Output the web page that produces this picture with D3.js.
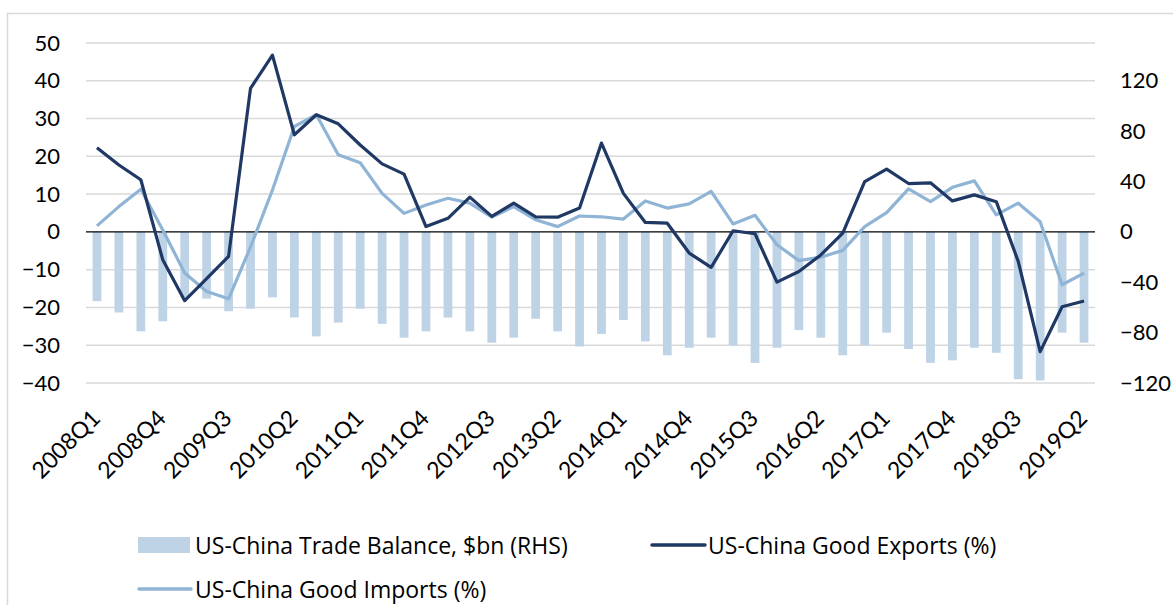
<!DOCTYPE html>
<html>
<head>
<meta charset="utf-8">
<script src="https://cdn.jsdelivr.net/npm/d3@7"></script>
<style>
  body { margin: 0; background: #fff; }
  svg { display: block; font-family: Lato, "Open Sans", sans-serif; }
</style>
</head>
<body>
<svg width="1173" height="605"></svg>
<script>
// quarters on the x axis
var quarters = [
  "2008Q1","2008Q2","2008Q3","2008Q4","2009Q1","2009Q2","2009Q3","2009Q4",
  "2010Q1","2010Q2","2010Q3","2010Q4","2011Q1","2011Q2","2011Q3","2011Q4",
  "2012Q1","2012Q2","2012Q3","2012Q4","2013Q1","2013Q2","2013Q3","2013Q4",
  "2014Q1","2014Q2","2014Q3","2014Q4","2015Q1","2015Q2","2015Q3","2015Q4",
  "2016Q1","2016Q2","2016Q3","2016Q4","2017Q1","2017Q2","2017Q3","2017Q4",
  "2018Q1","2018Q2","2018Q3","2018Q4","2019Q1","2019Q2"
];

// trade balance, $bn (right axis)
var balance = [
  -55, -64, -79, -71, -52, -53, -63, -61,
  -52, -68, -83, -72, -61, -73, -84, -79,
  -68, -79, -88, -84, -69, -79, -91, -81,
  -70, -87, -98, -92, -84, -90, -104, -92,
  -78, -84, -98, -90, -80, -93, -104, -102,
  -92, -96, -117, -118, -80, -88
];

// good exports, % y/y (left axis)
var exportsPct = [
  22.3, 17.7, 13.8, -7.4, -18.2, -12.4, -6.5, 38.0,
  46.8, 25.7, 31.0, 28.6, 23.0, 18.0, 15.3, 1.4,
  3.6, 9.2, 4.1, 7.6, 4.0, 3.9, 6.3, 23.5,
  10.2, 2.5, 2.3, -5.6, -9.4, 0.3, -0.5, -13.3,
  -10.5, -6.1, -0.3, 13.3, 16.6, 12.8, 13.0, 8.2,
  9.8, 8.0, -7.8, -31.7, -19.8, -18.3
];

// good imports, % y/y (left axis)
var importsPct = [
  1.6, 6.7, 11.3, 0.5, -10.9, -15.8, -17.7, -4.0,
  11.1, 27.9, 31.0, 20.4, 18.3, 10.2, 4.9, 7.1,
  8.9, 7.6, 3.9, 6.7, 3.2, 1.4, 4.2, 4.0,
  3.4, 8.2, 6.3, 7.4, 10.7, 2.1, 4.4, -3.4,
  -7.6, -6.7, -4.9, 1.4, 5.1, 11.4, 8.0, 11.8,
  13.5, 4.5, 7.6, 2.7, -14.0, -10.9
];

var leftTicks = [-40, -30, -20, -10, 0, 10, 20, 30, 40, 50];
var rightTicks = [-120, -80, -40, 0, 40, 80, 120];
var labelEvery = 3;

var svg = d3.select("svg");

var exportsColor = "#1f3864",
    importsColor = "#8fb4d6",
    barColor = "#bed3e6",
    gridColor = "#d9d9d9";

// outer chart frame
svg.append("rect")
    .attr("x", 7.5).attr("y", 13.5)
    .attr("width", 1180).attr("height", 610)
    .attr("fill", "none")
    .attr("stroke", gridColor)
    .attr("stroke-width", 1.5);

var x = d3.scaleBand()
    .domain(quarters)
    .range([86, 1095])
    .paddingInner(0.6)
    .paddingOuter(0.3);

var yL = d3.scaleLinear().domain([-40, 50]).range([383, 43]);
var yR = d3.scaleLinear().domain([-120, 150]).range([383, 43]);

function cx(q) { return x(q) + x.bandwidth() / 2; }

// gridlines
svg.append("g")
    .selectAll("line")
    .data(leftTicks.filter(function (d) { return d !== 0; }))
    .enter().append("line")
    .attr("x1", 86).attr("x2", 1095)
    .attr("y1", function (d) { return yL(d); })
    .attr("y2", function (d) { return yL(d); })
    .attr("stroke", gridColor)
    .attr("stroke-width", 1.5);

// bars
svg.append("g")
    .selectAll("rect")
    .data(balance)
    .enter().append("rect")
    .attr("x", function (d, i) { return x(quarters[i]); })
    .attr("width", x.bandwidth())
    .attr("y", function (d) { return yR(Math.max(0, d)); })
    .attr("height", function (d) { return Math.abs(yR(d) - yR(0)); })
    .attr("fill", barColor);

// zero line
svg.append("line")
    .attr("x1", 86).attr("x2", 1095)
    .attr("y1", yL(0)).attr("y2", yL(0))
    .attr("stroke", "#000")
    .attr("stroke-width", 1.2);

var line = d3.line()
    .x(function (d, i) { return cx(quarters[i]); })
    .y(function (d) { return yL(d); });

svg.append("path")
    .datum(importsPct)
    .attr("d", line)
    .attr("fill", "none")
    .attr("stroke", importsColor)
    .attr("stroke-width", 3.2)
    .attr("stroke-linejoin", "round");

svg.append("path")
    .datum(exportsPct)
    .attr("d", line)
    .attr("fill", "none")
    .attr("stroke", exportsColor)
    .attr("stroke-width", 3.2)
    .attr("stroke-linejoin", "round");

// left axis
var leftAxis = svg.append("g")
    .attr("transform", "translate(86,0)")
    .call(d3.axisLeft(yL).tickValues(leftTicks).tickSize(0).tickPadding(26));
leftAxis.select(".domain").remove();
leftAxis.selectAll("text")
    .attr("font-size", 22)
    .attr("font-family", "Lato, sans-serif")
    .attr("fill", "#000");

// right axis
var rightAxis = svg.append("g")
    .attr("transform", "translate(1095,0)")
    .call(d3.axisRight(yR).tickValues(rightTicks).tickSize(0).tickPadding(25));
rightAxis.select(".domain").remove();
rightAxis.selectAll("text")
    .attr("font-size", 22)
    .attr("font-family", "Lato, sans-serif")
    .attr("fill", "#000");

// x labels, every third quarter, rotated
svg.append("g")
    .selectAll("text")
    .data(quarters.filter(function (d, i) { return i % labelEvery === 0; }))
    .enter().append("text")
    .attr("transform", function (d) {
        return "translate(" + (cx(d) - 1) + ",414) rotate(-45)";
    })
    .attr("text-anchor", "end")
    .attr("dy", "0.35em")
    .attr("font-size", 23)
    .attr("fill", "#000")
    .text(function (d) { return d; });

// legend
var legend = svg.append("g")
    .attr("font-family", "'Open Sans', sans-serif")
    .attr("font-size", 23);

legend.append("rect")
    .attr("x", 138).attr("y", 537)
    .attr("width", 52).attr("height", 16)
    .attr("fill", barColor);
legend.append("text")
    .attr("x", 195).attr("y", 554)
    .text("US-China Trade Balance, $bn (RHS)");

legend.append("line")
    .attr("x1", 652).attr("x2", 705)
    .attr("y1", 545).attr("y2", 545)
    .attr("stroke", exportsColor)
    .attr("stroke-width", 3.5)
    .attr("stroke-linecap", "round");
legend.append("text")
    .attr("x", 708).attr("y", 554)
    .text("US-China Good Exports (%)");

legend.append("line")
    .attr("x1", 139).attr("x2", 191)
    .attr("y1", 589).attr("y2", 589)
    .attr("stroke", importsColor)
    .attr("stroke-width", 3.5)
    .attr("stroke-linecap", "round");
legend.append("text")
    .attr("x", 195).attr("y", 598)
    .text("US-China Good Imports (%)");
</script>
</body>
</html>
